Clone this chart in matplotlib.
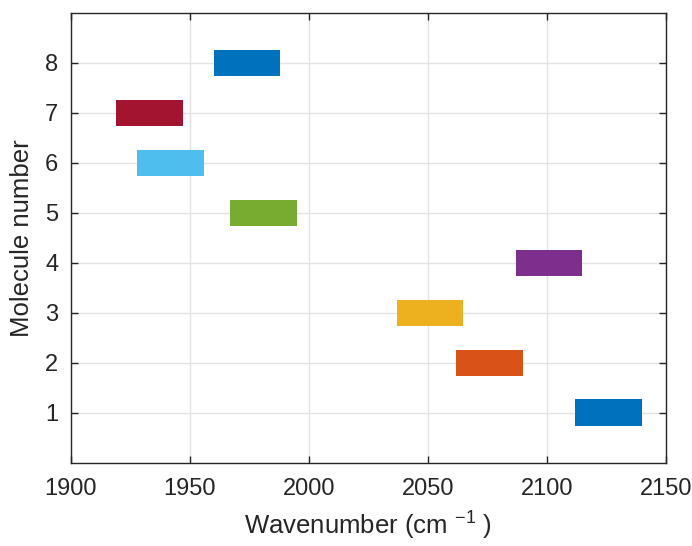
import matplotlib
matplotlib.use("Agg")
import matplotlib.pyplot as plt

plt.rcParams['font.family'] = ['Liberation Sans', 'DejaVu Sans']
plt.rcParams['mathtext.fontset'] = 'custom'
plt.rcParams['mathtext.rm'] = 'Liberation Sans'
plt.rcParams['mathtext.it'] = 'Liberation Sans'

# Band positions per molecule (cm^-1)
molecules = [1, 2, 3, 4, 5, 6, 7, 8]
band_start = [2112, 2062, 2037, 2087, 1967, 1928, 1919, 1960]
band_width = [28, 28, 28, 28, 28, 28, 28, 28]
colors = ['#0072BD', '#D95319', '#EDB120', '#7E2F8E',
          '#77AC30', '#4DBEEE', '#A2142F', '#0072BD']
x_ticks = [1900, 1950, 2000, 2050, 2100, 2150]

fig = plt.figure(figsize=(6.92, 5.46), dpi=100)
ax = fig.add_axes([0.1022, 0.1526, 0.8598, 0.8236])

ax.barh(molecules, band_width, left=band_start, height=0.53,
        color=colors, edgecolor='none', zorder=3)

ax.set_xlim(1900, 2150)
ax.set_ylim(0, 9)
ax.set_xticks(x_ticks)
ax.set_yticks(molecules)

ax.grid(True, color='#e3e3e3', linewidth=1.0, zorder=0)
ax.set_axisbelow(True)

dark = '#262626'
for s in ax.spines.values():
    s.set_color(dark)
    s.set_linewidth(1.0)
ax.tick_params(direction='in', length=5, width=1.0, colors=dark,
               labelsize=17, top=True, right=True)
ax.tick_params(axis='x', pad=11)
ax.tick_params(axis='y', pad=9)

ax.set_xlabel('Wavenumber (cm $^{-1}$ )', fontsize=18.5, color=dark, labelpad=7)
ax.set_ylabel('Molecule number', fontsize=18.5, color=dark, labelpad=8)

fig.savefig('out.png', dpi=100, facecolor='white')
